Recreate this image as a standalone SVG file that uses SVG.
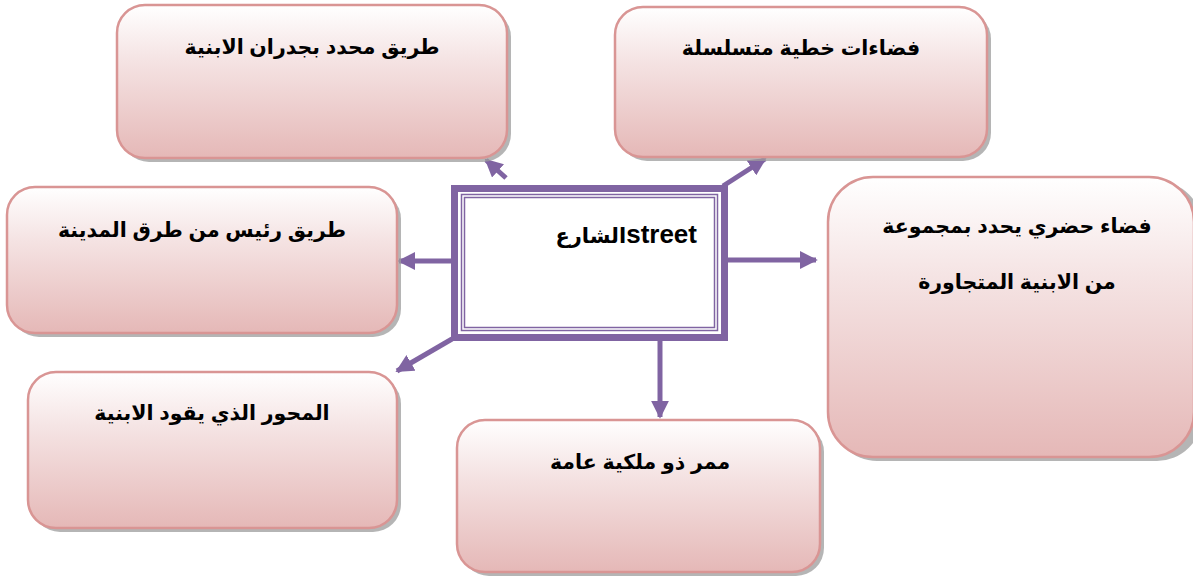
<svg xmlns="http://www.w3.org/2000/svg" width="1193" height="579" viewBox="0 0 1193 579">
<defs>
<linearGradient id="pink" x1="0" y1="0" x2="0" y2="1">
<stop offset="0" stop-color="#FFFFFF"/>
<stop offset="0.35" stop-color="#F5E4E4"/>
<stop offset="1" stop-color="#E5B8B7"/>
</linearGradient>
<marker id="ah" viewBox="0 0 10 10" refX="9" refY="5" markerWidth="3.6" markerHeight="3.6" orient="auto" markerUnits="strokeWidth">
<path d="M0,0 L10,5 L0,10 Z" fill="#8064A2"/>
</marker>
<style>
.shadow{fill:#9C9C9C;opacity:0.75}
.box{fill:url(#pink);stroke:#D99594;stroke-width:2.5}
.lbl{font-family:"Liberation Sans","DejaVu Sans","Noto Sans",sans-serif;font-weight:bold;font-size:20.5px;fill:#000;text-anchor:middle}
.conn{stroke:#8064A2;stroke-width:5;fill:none;marker-end:url(#ah)}
</style>
</defs>
<rect width="1193" height="579" fill="#FFFFFF"/>

<g id="connectors">
<line class="conn" x1="451" y1="261" x2="399" y2="261"/>
<line class="conn" x1="728" y1="260" x2="816" y2="260"/>
<line class="conn" x1="506" y1="178" x2="486" y2="160"/>
<line class="conn" x1="723" y1="186" x2="765" y2="159"/>
<line class="conn" x1="452" y1="339" x2="397" y2="371"/>
<line class="conn" x1="660" y1="341" x2="660" y2="417"/>
</g>

<g id="n-center">
<rect x="454.5" y="188.5" width="270" height="149" fill="#FFFFFF" stroke="#8064A2" stroke-width="7"/>
<rect x="461.5" y="194.5" width="256" height="136" fill="none" stroke="#8064A2" stroke-width="1.5"/>
<rect x="464.5" y="197.5" width="250" height="130" fill="none" stroke="#8064A2" stroke-width="1.5"/>
<text x="697" y="243" font-family="Liberation Sans, DejaVu Sans, sans-serif" font-weight="bold" direction="rtl" text-anchor="start"><tspan font-size="26">street</tspan><tspan font-size="21">الشارع</tspan></text>
</g>

<g id="n-top-left">
<rect class="shadow" x="121" y="9" width="390" height="153" rx="28"/>
<rect class="box" x="117" y="5" width="390" height="153" rx="28"/>
<text class="lbl" x="312" y="54">طريق محدد بجدران الابنية</text>
</g>

<g id="n-top-right">
<rect class="shadow" x="619" y="11" width="372" height="150" rx="28"/>
<rect class="box" x="615" y="7" width="372" height="150" rx="28"/>
<text class="lbl" x="801" y="55">فضاءات خطية متسلسلة</text>
</g>

<g id="n-left">
<rect class="shadow" x="11" y="191" width="390" height="146" rx="28"/>
<rect class="box" x="7" y="187" width="390" height="146" rx="28"/>
<text class="lbl" x="202" y="237">طريق رئيس من طرق المدينة</text>
</g>

<g id="n-right">
<rect class="shadow" x="832" y="181" width="370" height="280" rx="45"/>
<rect class="box" x="828" y="177" width="366" height="280" rx="45"/>
<text class="lbl" x="1017" y="233">فضاء حضري يحدد بمجموعة</text>
<text class="lbl" x="1017" y="289">من الابنية المتجاورة</text>
</g>

<g id="n-bottom-left">
<rect class="shadow" x="32" y="376" width="369" height="156" rx="28"/>
<rect class="box" x="28" y="372" width="369" height="156" rx="28"/>
<text class="lbl" x="212" y="420">المحور الذي يقود الابنية</text>
</g>

<g id="n-bottom">
<rect class="shadow" x="461" y="424" width="363" height="152" rx="28"/>
<rect class="box" x="457" y="420" width="363" height="152" rx="28"/>
<text class="lbl" x="640" y="469">ممر ذو ملكية عامة</text>
</g>
</svg>
